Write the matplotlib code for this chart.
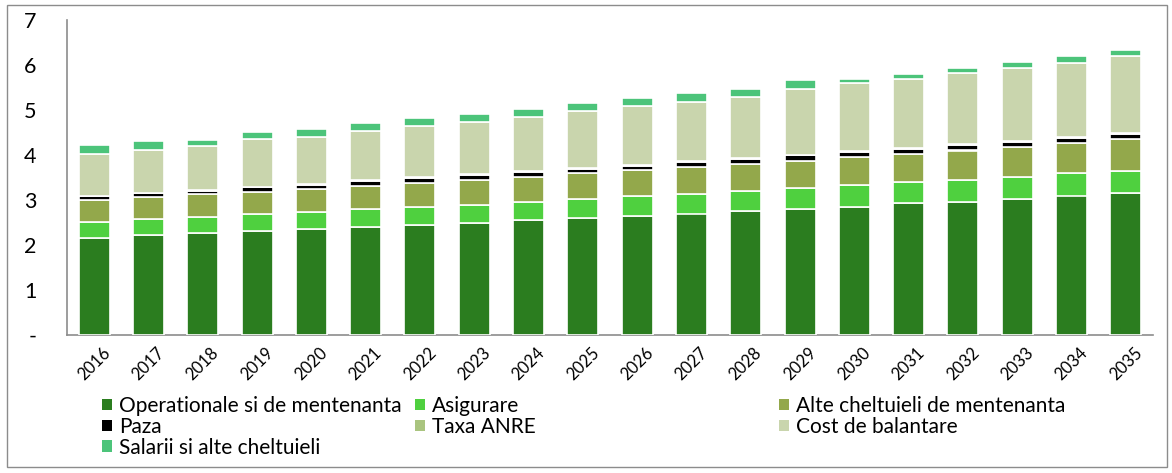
import matplotlib
matplotlib.use("Agg")
import matplotlib.pyplot as plt
from matplotlib.patches import Rectangle, Patch
import numpy as np

plt.rcParams['font.family'] = ['Lato', 'DejaVu Sans']

years = [str(y) for y in range(2016, 2036)]
operationale = [2.15, 2.22, 2.26, 2.32, 2.36, 2.41, 2.45, 2.50, 2.56, 2.60,
                2.65, 2.70, 2.76, 2.81, 2.85, 2.93, 2.96, 3.02, 3.10, 3.15]
asigurare = [0.36, 0.36, 0.36, 0.36, 0.38, 0.40, 0.39, 0.40, 0.40, 0.42,
             0.43, 0.43, 0.45, 0.46, 0.48, 0.46, 0.49, 0.50, 0.49, 0.50]
alte = [0.49, 0.49, 0.51, 0.50, 0.50, 0.51, 0.54, 0.55, 0.56, 0.57,
        0.58, 0.60, 0.60, 0.60, 0.62, 0.64, 0.65, 0.66, 0.68, 0.71]
paza = [0.08, 0.08, 0.08, 0.10, 0.10, 0.10, 0.10, 0.10, 0.10, 0.10,
        0.10, 0.11, 0.10, 0.12, 0.11, 0.10, 0.12, 0.11, 0.10, 0.10]
taxa_anre = [0.01, 0.01, 0.01, 0.02, 0.02, 0.02, 0.02, 0.02, 0.02, 0.02,
             0.02, 0.02, 0.02, 0.02, 0.02, 0.02, 0.02, 0.02, 0.02, 0.02]
cost_balantare = [0.94, 0.95, 0.99, 1.06, 1.05, 1.09, 1.15, 1.16, 1.21, 1.27,
                  1.31, 1.32, 1.35, 1.46, 1.51, 1.54, 1.58, 1.63, 1.66, 1.72]
salarii = [0.19, 0.19, 0.12, 0.15, 0.16, 0.17, 0.17, 0.17, 0.17, 0.18,
           0.18, 0.19, 0.18, 0.20, 0.09, 0.12, 0.12, 0.13, 0.15, 0.13]

series = [
    ("Operationale si de mentenanta", operationale, "#2b7d1f"),
    ("Asigurare", asigurare, "#4fd03f"),
    ("Alte cheltuieli de mentenanta", alte, "#93a84b"),
    ("Paza", paza, "#000000"),
    ("Taxa ANRE", taxa_anre, "#a9c47f"),
    ("Cost de balantare", cost_balantare, "#c9d5ad"),
    ("Salarii si alte cheltuieli", salarii, "#4cc47a"),
]

W, H = 1172, 473
fig = plt.figure(figsize=(W / 100, H / 100), dpi=100)
ax = fig.add_axes([67 / W, 1 - 335 / H, (1153 - 67) / W, (335 - 20) / H])

x = np.arange(len(years))
bottom = np.zeros(len(years))
for name, vals, col in series:
    v = np.array(vals)
    ax.bar(x, v, width=0.57, bottom=bottom, color=col, edgecolor="white",
           linewidth=1.2, label=name, zorder=3)
    bottom += v

ax.set_xlim(-0.5, len(years) - 0.5)
ax.set_ylim(0, 7)
ax.set_yticks(range(0, 8))
ax.set_yticklabels(["-"] + [str(i) for i in range(1, 8)], fontsize=15.5)
ax.set_xticks(x)
ax.set_xticklabels(years, rotation=45, ha="center", fontsize=12)
ax.tick_params(axis="y", length=0, pad=22)
ax.tick_params(axis="x", length=0, pad=7)
for s in ["top", "right"]:
    ax.spines[s].set_visible(False)
for s in ["left", "bottom"]:
    ax.spines[s].set_color("#8c8c8c")
    ax.spines[s].set_linewidth(1.2)

# Legend: three columns placed like the original
handles = {name: Patch(facecolor=col, edgecolor="none") for name, _, col in series}
cols = [
    (["Operationale si de mentenanta", "Paza", "Salarii si alte cheltuieli"], 102),
    (["Asigurare", "Taxa ANRE"], 415),
    (["Alte cheltuieli de mentenanta", "Cost de balantare"], 779),
]
for names, xpix in cols:
    leg = fig.legend([handles[n] for n in names], names, loc="upper left",
                     bbox_to_anchor=(xpix / W, 1 - 396 / H), frameon=False,
                     fontsize=15, handlelength=0.48, handleheight=0.48,
                     handletextpad=0.35, labelspacing=0.04, borderpad=0,
                     borderaxespad=0)

fig.patches.append(Rectangle((7 / W, 1 - 467 / H), (1167 - 7) / W, (467 - 5) / H,
                             transform=fig.transFigure, fill=False,
                             edgecolor="#8c8c8c", linewidth=1.0))

fig.savefig("out.png", dpi=100)
